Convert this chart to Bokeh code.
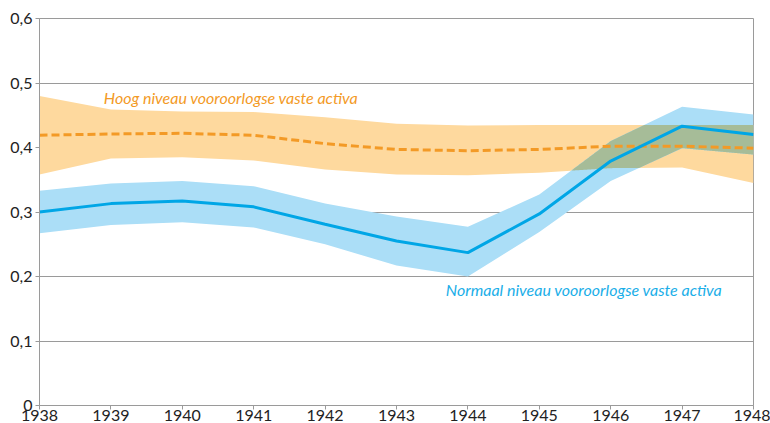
import numpy as np
from bokeh.plotting import figure
from bokeh.models import ColumnDataSource, FixedTicker, CustomJSTickFormatter, Label, Range1d
from bokeh.embed import file_html
from bokeh.resources import INLINE

years = [1938, 1939, 1940, 1941, 1942, 1943, 1944, 1945, 1946, 1947, 1948]

# Hoog niveau vooroorlogse vaste activa
hoog = [0.419, 0.421, 0.422, 0.419, 0.406, 0.397, 0.395, 0.397, 0.402, 0.402, 0.399]
hoog_hi = [0.480, 0.459, 0.456, 0.455, 0.447, 0.437, 0.434, 0.435, 0.435, 0.435, 0.435]
hoog_lo = [0.358, 0.383, 0.385, 0.380, 0.366, 0.358, 0.357, 0.361, 0.368, 0.369, 0.345]

# Normaal niveau vooroorlogse vaste activa
normaal = [0.300, 0.313, 0.317, 0.308, 0.281, 0.255, 0.237, 0.297, 0.379, 0.433, 0.420]
normaal_hi = [0.333, 0.344, 0.348, 0.340, 0.313, 0.293, 0.277, 0.327, 0.410, 0.463, 0.451]
normaal_lo = [0.267, 0.280, 0.284, 0.276, 0.250, 0.217, 0.200, 0.269, 0.348, 0.399, 0.389]

y_ticks = [0, 0.1, 0.2, 0.3, 0.4, 0.5, 0.6]
label_hoog = "Hoog niveau vooroorlogse vaste activa"
label_normaal = "Normaal niveau vooroorlogse vaste activa"

ORANGE_BAND = "#FED99E"
ORANGE_LINE = "#F39A26"
BLUE_BAND = "#ABDEF7"
BLUE_LINE = "#00A6E6"
OVERLAP = "#A6BC98"
GRID = "#9a9a9a"
FONT = "Lato"

p = figure(width=770, height=423, output_backend="svg", toolbar_location=None,
           x_range=Range1d(1938, 1948), y_range=Range1d(0, 0.6),
           min_border_left=39, min_border_top=18, min_border_right=17, min_border_bottom=0)

src = ColumnDataSource(dict(x=years, hoog=hoog, hoog_hi=hoog_hi, hoog_lo=hoog_lo,
                            normaal=normaal, normaal_hi=normaal_hi, normaal_lo=normaal_lo))

p.varea(x="x", y1="hoog_lo", y2="hoog_hi", source=src, fill_color=ORANGE_BAND)
p.varea(x="x", y1="normaal_lo", y2="normaal_hi", source=src, fill_color=BLUE_BAND)

# overlap of both bands (derived from the data)
xf = np.linspace(years[0], years[-1], 2001)
lo = np.maximum(np.interp(xf, years, hoog_lo), np.interp(xf, years, normaal_lo))
hi = np.minimum(np.interp(xf, years, hoog_hi), np.interp(xf, years, normaal_hi))
hi = np.maximum(lo, hi)
p.varea(x=xf, y1=lo, y2=hi, fill_color=OVERLAP)

p.line(x="x", y="hoog", source=src, line_color=ORANGE_LINE, line_width=3, line_dash="8 4")
p.line(x="x", y="normaal", source=src, line_color=BLUE_LINE, line_width=3)

p.add_layout(Label(x=1938.9, y=0.477, text=label_hoog, text_color=ORANGE_LINE,
                   text_font=FONT, text_font_style="italic", text_font_size="16px",
                   text_baseline="middle"))
p.add_layout(Label(x=1943.69, y=0.18, text=label_normaal, text_color="#1AAEE8",
                   text_font=FONT, text_font_style="italic", text_font_size="16px",
                   text_baseline="middle"))

# axes & grid
p.xaxis.ticker = FixedTicker(ticks=years)
p.yaxis.ticker = FixedTicker(ticks=y_ticks)
p.yaxis.formatter = CustomJSTickFormatter(
    code="return tick == 0 ? '0' : tick.toFixed(1).replace('.', ',');")
for ax in (p.xaxis[0], p.yaxis[0]):
    ax.axis_line_color = GRID
    ax.major_tick_line_color = GRID
    ax.minor_tick_line_color = None
    ax.major_tick_in = 0
    ax.major_tick_out = 4
    ax.major_label_text_font = FONT
    ax.major_label_text_font_size = "16px"
    ax.major_label_text_color = "#222222"
p.xaxis.major_label_standoff = 0
p.yaxis.major_label_standoff = 3
p.xgrid.grid_line_color = None
p.ygrid.grid_line_color = GRID
p.ygrid.grid_line_width = 1
p.outline_line_color = GRID
p.outline_line_width = 1
p.background_fill_color = "white"
p.border_fill_color = "white"

open("out.html", "w").write(file_html(p, INLINE))
